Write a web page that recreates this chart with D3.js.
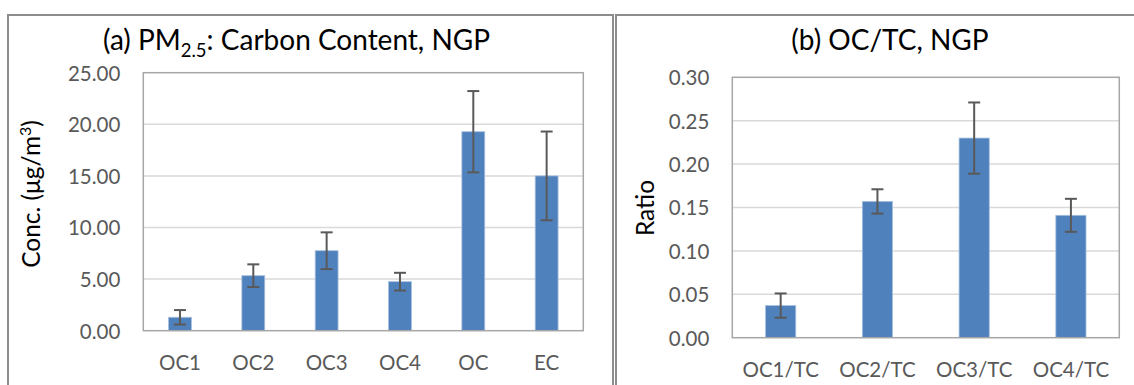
<!DOCTYPE html>
<html><head><meta charset="utf-8">
<script src="https://cdn.jsdelivr.net/npm/d3@7"></script>
<style>body{margin:0;background:#fff}svg{display:block}text{font-family:Lato,"Noto Sans",sans-serif}</style>
</head><body><svg id="c" width="1134" height="385"></svg>
<script>
// Panel (a) data
const catsA = ["OC1","OC2","OC3","OC4","OC","EC"];
const valsA = [1.30, 5.33, 7.75, 4.75, 19.28, 15.00];
const errA  = [0.70, 1.10, 1.78, 0.86, 3.94, 4.30];
const ticksA = [0,5,10,15,20,25];
// Panel (b) data
const catsB = ["OC1/TC","OC2/TC","OC3/TC","OC4/TC"];
const valsB = [0.037, 0.157, 0.230, 0.141];
const errB  = [0.014, 0.014, 0.041, 0.019];
const ticksB = [0,0.05,0.10,0.15,0.20,0.25,0.30];

const svg = d3.select("#c");
const BAR = "#4F81BD", ERR = "#595959", GRID = "#D9D9D9", AX = "#A6A6A6", OUT = "#8C8C8C", TXT = "#595959";

// outer chart borders
svg.append("path").attr("d","M8,385 L8,15 L613,15 L613,385").attr("fill","none").attr("stroke",OUT).attr("stroke-width",2);
svg.append("path").attr("d","M616,385 L616,15 L1136,15").attr("fill","none").attr("stroke",OUT).attr("stroke-width",2);

function panel(cfg){
  const {cats, vals, errs, ticks, x0, x1, y0, y1, max, fmt} = cfg;
  const g = svg.append("g");
  const x = d3.scaleBand().domain(cats).range([x0,x1]).paddingInner(0.688).paddingOuter(0.344);
  const y = d3.scaleLinear().domain([0,max]).range([y1,y0]);
  // gridlines
  g.selectAll(".grid").data(ticks.filter(t=>t>0 && t<max)).enter().append("line")
    .attr("x1",x0).attr("x2",x1).attr("y1",d=>y(d)).attr("y2",d=>y(d))
    .attr("stroke",GRID).attr("stroke-width",1.5);
  // bars
  g.selectAll(".bar").data(cats).enter().append("rect")
    .attr("x",d=>x(d)).attr("width",x.bandwidth())
    .attr("y",(d,i)=>y(vals[i])).attr("height",(d,i)=>y(0)-y(vals[i]))
    .attr("fill",BAR).attr("stroke","#A7C0DE").attr("stroke-width",0.8);
  // plot border
  g.append("rect").attr("x",x0).attr("y",y0).attr("width",x1-x0).attr("height",y1-y0)
    .attr("fill","none").attr("stroke",AX).attr("stroke-width",1.5);
  // error bars
  cats.forEach((c,i)=>{
    const cx = x(c)+x.bandwidth()/2, t = y(vals[i]+errs[i]), b = y(vals[i]-errs[i]);
    g.append("line").attr("x1",cx).attr("x2",cx).attr("y1",t).attr("y2",b).attr("stroke",ERR).attr("stroke-width",2);
    [t,b].forEach(yy=>g.append("line").attr("x1",cx-6).attr("x2",cx+6).attr("y1",yy).attr("y2",yy).attr("stroke",ERR).attr("stroke-width",2));
  });
  // y axis labels
  const ya = d3.axisLeft(y).tickValues(ticks).tickFormat(fmt).tickSize(0).tickPadding(23);
  const yg = g.append("g").attr("transform",`translate(${x0},0)`).call(ya);
  yg.select(".domain").remove();
  yg.selectAll("text").attr("fill",TXT).attr("font-size",20.5).attr("dy","0.36em");
  // x axis labels
  const xa = d3.axisBottom(x).tickSize(0);
  const xg = g.append("g").attr("transform",`translate(0,${y1})`).call(xa);
  xg.select(".domain").remove();
  xg.selectAll("text").attr("fill",TXT).attr("font-size",20.5).attr("y",39).attr("dy",0);
  return g;
}

panel({cats:catsA, vals:valsA, errs:errA, ticks:ticksA, x0:143.3, x1:583.3, y0:72.7, y1:330.7, max:25, fmt:d3.format(".2f")});
panel({cats:catsB, vals:valsB, errs:errB, ticks:ticksB, x0:732.3, x1:1119.3, y0:77.3, y1:337.7, max:0.30, fmt:d3.format(".2f")});

// titles
const tA = svg.append("text").attr("x",296.5).attr("y",50).attr("text-anchor","middle").attr("font-size",28).attr("fill","#000");
tA.append("tspan").text("(a) PM");
tA.append("tspan").attr("font-size",18.5).attr("dy",7).text("2.5");
tA.append("tspan").attr("dy",-7).text(": Carbon Content, NGP");
svg.append("text").attr("x",890).attr("y",50).attr("text-anchor","middle").attr("font-size",28).attr("fill","#000").text("(b) OC/TC, NGP");

// axis titles
const yt = svg.append("text").attr("transform","translate(40,194) rotate(-90)").attr("text-anchor","middle").attr("font-size",24.5).attr("fill","#000");
yt.append("tspan").text("Conc. (μg/m");
yt.append("tspan").attr("font-size",16).attr("dy",-9).text("3");
yt.append("tspan").attr("dy",9).text(")");
svg.append("text").attr("transform","translate(654,208) rotate(-90)").attr("text-anchor","middle").attr("font-size",24.5).attr("fill","#000").text("Ratio");
</script></body></html>
